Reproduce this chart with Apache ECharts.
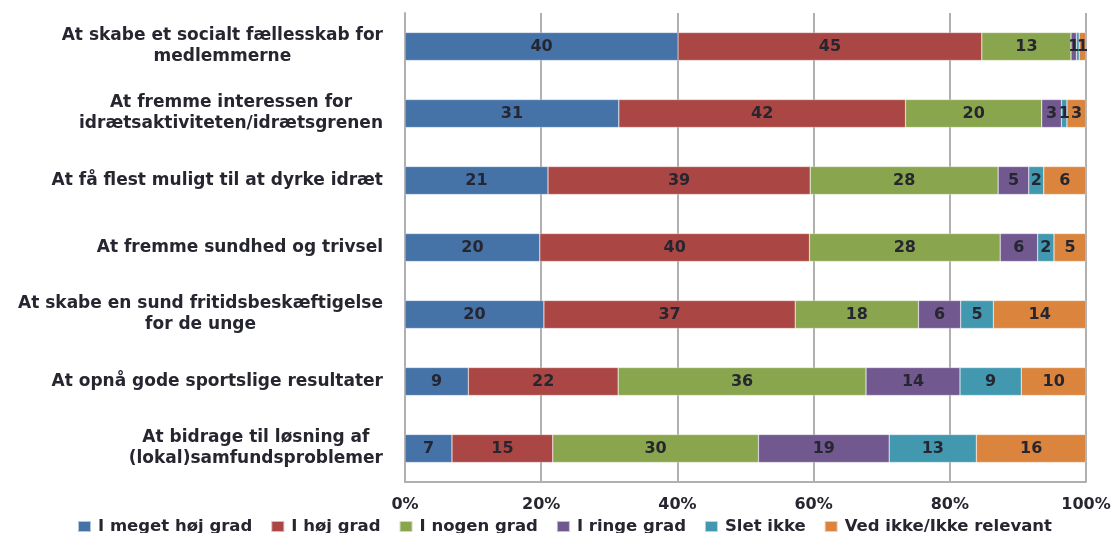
<!DOCTYPE html>
<html><head><meta charset="utf-8">
<script src="https://cdn.jsdelivr.net/npm/echarts@6/dist/echarts.min.js"></script>
<style>html,body{margin:0;padding:0;background:#fff}#c{width:1115px;height:533px}</style>
</head><body><div id="c"></div>
<script>
const categories = [
  "At skabe et socialt fællesskab for\nmedlemmerne",
  "At fremme interessen for\nidrætsaktiviteten/idrætsgrenen",
  "At få flest muligt til at dyrke idræt",
  "At fremme sundhed og trivsel",
  "At skabe en sund fritidsbeskæftigelse\nfor de unge",
  "At opnå gode sportslige resultater",
  "At bidrage til løsning af\n(lokal)samfundsproblemer"
];
const seriesNames = ["I meget høj grad","I høj grad","I nogen grad","I ringe grad","Slet ikke","Ved ikke/Ikke relevant"];
const meget = [40.1, 31.4, 21.0, 19.8, 20.4, 9.3, 6.9];
const hoej   = [44.6, 42.1, 38.5, 39.6, 36.9, 22.0, 14.8];
const nogen  = [13.1, 20.0, 27.6, 28.0, 18.1, 36.4, 30.2];
const ringe  = [0.8, 2.9, 4.5, 5.5, 6.2, 13.8, 19.2];
const slet   = [0.4, 0.8, 2.2, 2.4, 4.8, 9.0, 12.8];
const vedIkke= [1.0, 2.8, 6.2, 4.7, 13.6, 9.5, 16.1];
const tickLabels = ["0%","20%","40%","60%","80%","100%"];
const colors = ["#4572A7","#AA4643","#89A54E","#71588F","#4198AF","#DB843D"];

const font = "DejaVu Sans";
const txt = '#262630';
const chart = echarts.init(document.getElementById('c'));
const all = [meget, hoej, nogen, ringe, slet, vedIkke];
chart.setOption({
  animation:false,
  color: colors,
  textStyle:{fontFamily:font},
  grid:{left:405, right:29, top:13, bottom:51},
  legend:{
    top:513, left:72, itemWidth:13, itemHeight:11, itemGap:18,
    icon:'rect',
    textStyle:{fontFamily:font, fontSize:16.5, fontWeight:'bold', color:txt, padding:[0,0,0,2]},
    data: seriesNames
  },
  xAxis:{
    type:'value', min:0, max:100, interval:20,
    axisLabel:{formatter:(v)=>tickLabels[v/20], fontSize:16, fontWeight:'bold', color:txt, margin:15, fontFamily:font},
    splitLine:{lineStyle:{color:'#b0b0b0', width:2}},
    axisLine:{show:true, lineStyle:{color:'#b0b0b0', width:2}},
    axisTick:{show:false}
  },
  yAxis:{
    type:'category', inverse:true, data:categories,
    axisLine:{show:true, lineStyle:{color:'#b0b0b0', width:2}},
    axisTick:{show:false},
    axisLabel:{
      align:'right', margin:22, lineHeight:21,
      formatter:(v)=> v.split('\n').map(s=>'{c|'+s+'}').join('\n'),
      rich:{c:{align:'center', fontSize:17, fontWeight:'bold', color:txt, fontFamily:font, lineHeight:21}}
    }
  },
  series: all.map((d,i)=>({
    name: seriesNames[i], type:'bar', stack:'t', barWidth:28,
    data: d,
    itemStyle:{borderColor:'rgba(255,255,255,0.6)', borderWidth:0.5},
    label:{show:true, position:'inside', fontSize:16, fontWeight:'bold', color:txt, fontFamily:font,
      formatter:(p)=> p.value < 0.5 ? '' : String(Math.round(p.value))}
  }))
});
</script></body></html>
